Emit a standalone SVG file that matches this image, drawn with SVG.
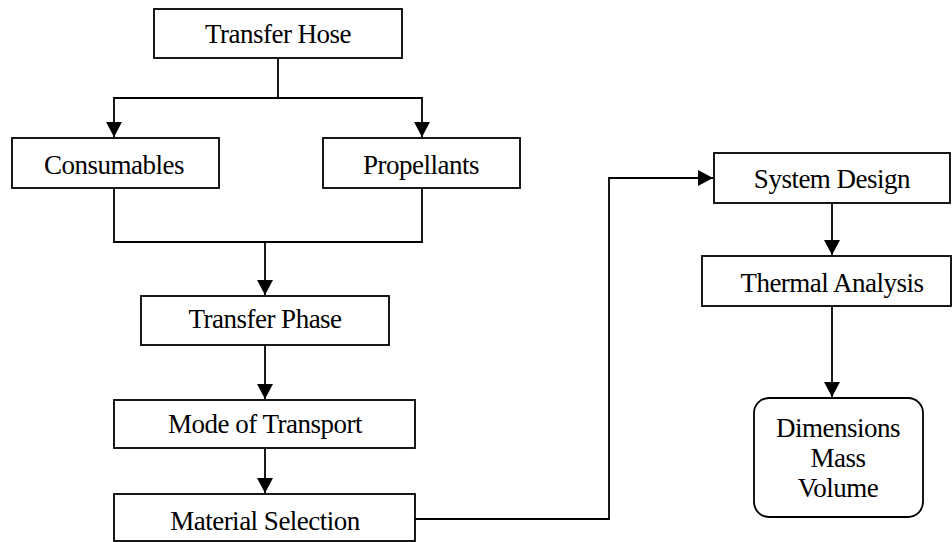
<svg xmlns="http://www.w3.org/2000/svg" width="952" height="542" viewBox="0 0 952 542">
<defs>
<marker id="arr" markerUnits="userSpaceOnUse" markerWidth="16" markerHeight="16" refX="15" refY="8" orient="auto">
<path d="M0,0 L15,8 L0,16 z" fill="#000"/>
</marker>
<style>
.box{fill:#fff;stroke:#000;stroke-width:1.8}
.lbl{font-family:"Liberation Serif","Times New Roman",serif;font-size:27px;letter-spacing:-0.5px;fill:#000;text-anchor:middle}
.con{fill:none;stroke:#000;stroke-width:1.8}
</style>
</defs>
<rect width="952" height="542" fill="#fff"/>
<g id="connectors">
<path class="con" d="M278,58 V98 H114 V137" marker-end="url(#arr)"/>
<path class="con" d="M278,98 H422 V137" marker-end="url(#arr)"/>
<path class="con" d="M114,188 V242 H422 V188"/>
<path class="con" d="M265,242 V295" marker-end="url(#arr)"/>
<path class="con" d="M265,345 V399" marker-end="url(#arr)"/>
<path class="con" d="M265,448 V493" marker-end="url(#arr)"/>
<path class="con" d="M415,519 H609 V178 H713" marker-end="url(#arr)"/>
<path class="con" d="M832,203 V255" marker-end="url(#arr)"/>
<path class="con" d="M832,306 V397" marker-end="url(#arr)"/>
</g>
<g id="transfer-hose">
<rect class="box" x="154" y="9" width="248" height="49"/>
<text class="lbl" x="278" y="43">Transfer Hose</text>
</g>
<g id="consumables">
<rect class="box" x="12" y="138" width="207" height="50"/>
<text class="lbl" x="114" y="174">Consumables</text>
</g>
<g id="propellants">
<rect class="box" x="323" y="138" width="197" height="50"/>
<text class="lbl" x="421" y="174">Propellants</text>
</g>
<g id="transfer-phase">
<rect class="box" x="141" y="296" width="248" height="49"/>
<text class="lbl" x="265" y="328">Transfer Phase</text>
</g>
<g id="mode-of-transport">
<rect class="box" x="114" y="400" width="301" height="48"/>
<text class="lbl" x="265" y="433">Mode of Transport</text>
</g>
<g id="material-selection">
<rect class="box" x="114" y="494" width="301" height="47"/>
<text class="lbl" x="265" y="530">Material Selection</text>
</g>
<g id="system-design">
<rect class="box" x="714" y="153" width="236" height="50"/>
<text class="lbl" x="832" y="188">System Design</text>
</g>
<g id="thermal-analysis">
<rect class="box" x="702" y="256" width="249" height="50"/>
<text class="lbl" x="832" y="292">Thermal Analysis</text>
</g>
<g id="dimensions">
<rect class="box" x="754" y="398" width="169" height="119" rx="15" ry="15"/>
<text class="lbl" x="838" y="437">Dimensions</text>
<text class="lbl" x="838" y="467">Mass</text>
<text class="lbl" x="838" y="497">Volume</text>
</g>
</svg>
